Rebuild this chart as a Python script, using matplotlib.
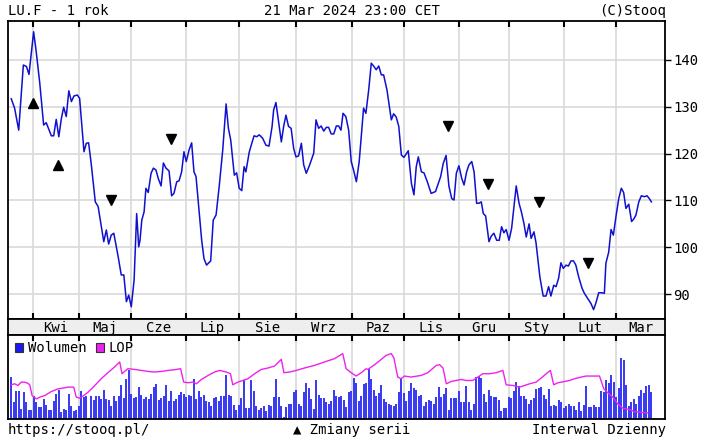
import matplotlib
matplotlib.use("Agg")
import matplotlib.pyplot as plt
from matplotlib.patches import Rectangle
import numpy as np

plt.rcParams['font.family'] = ['DejaVu Sans Mono', 'DejaVu Sans']

# price series: trading-day position, close
price_day = [0.1, 1.4, 3.0, 4.8, 6.0, 7.0, 7.9, 8.8, 9.8, 11.2, 12.7, 13.7, 15.7, 16.6, 17.6,
             18.6, 19.6, 20.5, 21.5, 22.5, 23.5, 24.5, 25.8, 26.7, 27.6, 28.4, 29.3, 30.2, 31.2,
             32.8, 33.9, 36.1, 37.1, 38.0, 39.0, 40.0, 41.6, 42.9, 43.9, 44.9, 45.8, 46.8, 47.9,
             48.9, 49.7,
             50.2, 50.9, 51.8, 52.5, 53.4, 54.5, 55.4, 56.4, 57.3, 58.4, 59.3, 60.3, 61.5, 62.5,
             63.4, 64.5, 65.4, 66.4, 67.3, 68.2, 69.3, 70.3, 71.2, 72.0, 73.3, 74.2, 75.1, 76.1,
             77.7, 78.7, 79.8, 81.0, 82.4, 83.7, 84.6, 85.5, 86.9, 87.8, 88.8, 89.8, 90.7, 91.4,
             92.7, 93.7, 94.6, 95.6, 96.6, 97.9, 99.2, 100.4, 101.6,
             102.2, 103.1, 104.2, 105.2, 106.1, 107.0, 108.0, 109.0, 110.0, 110.9, 111.9, 113.0,
             113.9, 114.9, 116.1, 117.8, 118.7, 119.7, 120.7, 121.7, 122.7, 123.6, 124.6, 125.6,
             126.6, 127.5, 128.4, 129.2, 130.3, 131.4, 132.4, 133.3, 134.4, 135.5, 137.2, 138.1,
             139.2, 140.2, 141.1, 142.1, 143.1, 144.1, 145.0, 146.3, 148.0, 148.9, 149.9, 150.9,
             151.9, 152.9,
             154.6, 155.8, 156.8, 157.7, 158.5, 159.7, 160.7, 162.0, 163.5, 165.2, 167.2, 168.2,
             169.3, 170.4, 171.5, 172.4, 173.3, 174.3, 175.4, 176.3, 177.3, 178.2, 179.3, 180.2,
             181.2, 182.1, 183.0, 183.8, 184.7, 186.0, 186.9, 187.9, 189.0, 190.0, 190.9, 191.8,
             192.7, 193.8, 194.8, 196.6, 197.7, 198.6, 199.6, 200.5, 201.6, 202.4, 203.5, 204.3,
             204.9, 205.8, 207.1, 208.2, 209.2, 210.1, 211.2, 212.1, 213.1, 214.0, 214.9, 216.0,
             216.9, 217.9, 218.9, 219.8, 220.9, 222.2, 223.1, 224.4, 225.7, 226.7, 227.6, 228.7,
             229.8, 230.9, 231.5, 232.6, 233.5, 234.4, 235.4, 236.5, 237.5, 238.4, 239.3, 240.4,
             241.5, 242.3, 243.2, 244.3, 245.3, 246.5, 247.5, 248.4, 249.2]
price_val = [131.7, 129.7, 125.0, 138.9, 138.6, 136.9, 141.4, 146.0, 141.8, 135.0, 126.1, 126.6,
             123.8, 123.8, 127.3, 123.6, 127.5, 129.9, 127.9, 133.4, 131.1, 132.3, 132.5, 131.8,
             125.8, 120.4, 122.2, 122.3, 117.9, 109.7, 108.7, 101.2, 103.7, 100.7, 102.6, 103.0,
             98.3, 94.1, 94.1, 88.4, 89.8, 87.3, 93.0, 107.2, 100.1,
             101.5, 105.8, 107.6, 112.6, 111.7, 115.8, 116.9, 116.5, 114.7, 113.1, 118.0, 116.9,
             116.3, 111.0, 111.5, 114.0, 114.2, 116.1, 120.4, 118.3, 120.8, 122.3, 116.1, 115.1,
             107.2, 101.5, 97.6, 96.2, 97.1, 105.8, 106.9, 112.9, 120.8, 130.6, 125.4, 122.9,
             115.4, 115.9, 112.6, 112.1, 117.2, 116.1, 120.3, 122.2, 123.8, 123.6, 124.0, 123.3,
             121.8, 121.6, 125.8,
             129.3, 130.9, 126.5, 122.5, 125.8, 128.2, 125.8, 125.4, 121.1, 119.3, 119.5, 122.2,
             117.6, 115.8, 117.4, 120.1, 127.2, 125.4, 125.9, 124.8, 125.6, 125.6, 124.2, 124.2,
             125.9, 125.9, 125.0, 128.6, 127.9, 125.0, 118.3, 116.5, 114.0, 118.3, 129.7, 128.6,
             133.6, 139.3, 138.7, 137.9, 138.7, 136.8, 136.8, 133.6, 127.2, 128.5, 127.8, 125.8,
             119.7, 119.2,
             120.6, 113.7, 111.2, 117.2, 119.3, 116.1, 115.9, 114.0, 111.5, 111.9, 115.1, 117.9,
             119.6, 113.1, 110.4, 110.1, 115.8, 117.4, 114.7, 113.3, 116.1, 117.6, 118.3, 116.1,
             109.4, 109.4, 109.7, 107.2, 106.7, 101.2, 102.4, 103.0, 101.5, 101.5, 104.4, 103.1,
             103.8, 101.5, 104.0, 113.1, 109.4, 107.6, 105.1, 102.2, 105.0, 101.9, 103.3, 101.0,
             98.0, 93.7, 89.6, 89.6, 91.6, 89.6, 91.9, 91.6, 93.4, 96.7, 95.5, 96.2,
             96.0, 97.1, 97.1, 96.2, 93.7, 91.3, 90.2, 89.1, 88.0, 86.7, 88.1, 90.3,
             90.3, 90.2, 96.6, 99.0, 103.8, 102.6, 106.5, 110.4, 112.6, 111.7, 108.3, 109.2,
             105.5, 106.0, 106.9, 109.7, 111.0, 110.8, 111.0, 110.4, 109.7]

# series-change markers
up_day = [8.6, 18.3]
up_val = [130.9, 117.6]
down_day = [38.8, 62.1, 170.0, 185.7, 205.3, 224.6]
down_val = [110.0, 123.1, 125.9, 113.5, 109.7, 96.7]

# daily volume (relative units)
volume = [41.7, 16.7, 28.3, 28.3, 10, 26.7, 16.7, 9.3, 9.3, 22.7, 16.7, 11.7, 11.7, 20, 14, 9.3,
          9.3, 18.3, 25, 29.3, 7.3, 10, 9.3, 25, 13.3, 8.3, 9.3, 12.7, 28.3, 21.7, 22.7, 0.7,
          23.3, 19.3, 23.3, 23.3, 20, 29.3, 20, 19.3, 13.3, 23.3, 18.3, 23.3, 34, 20.7, 40,
          48.3, 25, 20.7, 21.7, 31.7, 24, 20, 21.7, 20, 25, 31.7, 35, 19.3, 20.7, 23.3, 34,
          18.3, 28.3, 18.3, 20, 24, 26.7, 25, 21.7, 24, 23.3, 39.3, 20, 28.3, 21.7, 24, 18.3,
          17.3, 13.3, 20.7, 21.7, 18.3, 22.7, 23.3, 43.3,
          24, 22.7, 14, 9.3, 14, 20.7, 38.3, 10.7, 10.7, 38.3, 28.3, 12.7, 9.3, 10.7, 12.7, 8.3,
          14, 13.3, 21.7, 39.3, 21.7, 13.3, 1.7, 11.7, 15, 15, 26.7, 29.3, 15, 13.3, 26.7, 36,
          30.7, 20, 10, 38.3, 24, 20.7, 20.7, 16.7, 15, 18.3, 29.3, 22.7, 21.7, 23.3, 19.3,
          11.7, 27.3, 28.3, 40.7, 36, 18.3, 23.3, 35, 36, 49.3, 40, 29.3, 22.7, 26, 34, 20,
          16.7, 15, 14, 13.3, 15, 26.7, 39.3, 26, 18.3, 28.3, 36, 30.7, 29.3, 23.3, 24, 13.3,
          16.7, 19.3, 18.3, 15, 21.7, 31.7, 21.7, 25, 30.7,
          9.3, 20.7, 20.7, 20.7, 28.3, 16.7, 16.7, 33.3, 16.7, 9.3, 15, 41.7, 42.7, 40.7, 25,
          16.7, 29.3, 23.3, 21.7, 21.7, 19.3, 8.3, 10.7, 10.7, 21.7, 20.7, 28.3, 36.7, 32.7,
          23.3, 23.3, 20, 15, 19.3, 20.7, 30, 30.7, 31.7, 24, 20, 30, 13.3, 14, 12.7, 19.3,
          17.3, 10.7, 12.7, 15, 12.7, 13.3, 9.3, 16.7, 8.3, 14, 33.3, 11.7, 11.7, 14, 11.7,
          11.7, 28.3, 26.7, 38.3, 36, 43.3, 36.7, 21.7, 30.7, 60.7, 58.3, 34, 13.3, 16.7, 20,
          15, 22.7, 29.3, 26, 33.3, 34, 26.7]

# LOP (open interest), same relative units
lop_day = [0.1, 1.4, 2.7, 4.0, 5.1, 6.4, 7.3, 8.2, 9.9, 11.2, 13.1, 15.7, 18.3, 20.2, 22.2, 24.4,
           25.4, 26.7, 28.0, 30.0, 32.6, 35.1, 37.7, 40.3, 42.3, 43.2, 44.2, 45.5, 48.1, 50.7,
           53.3, 55.9, 58.5, 61.1, 63.7, 66.0, 67.2, 68.9, 70.8, 72.1, 74.1, 76.7, 79.2, 81.2,
           83.8,
           85.4, 86.3, 88.3, 90.2, 92.2, 94.8, 97.4, 100.0, 102.6, 105.2, 106.2, 108.4, 111.0,
           114.2, 118.1, 122.0, 125.9, 129.1, 130.4, 132.4, 134.3, 136.3, 138.2, 138.9, 141.5,
           144.1, 146.0, 148.0, 149.0, 150.5, 151.8, 153.1, 155.7, 159.6, 162.2, 165.5, 166.8,
           168.1, 169.4,
           171.3, 173.2, 175.2, 177.1, 179.7, 181.7, 183.6, 186.2, 188.8, 191.4, 192.7, 195.3,
           197.9, 199.8, 201.8, 204.4, 206.3, 208.3, 209.9, 211.2, 212.8, 215.4, 217.3, 219.3,
           221.9, 223.8, 225.8, 229.0, 230.7, 232.3, 234.2, 236.1, 238.1, 240.7, 242.6, 245.2,
           247.8]
lop_val = [34, 35, 33.3, 36.7, 36.7, 35.7, 34, 23.3, 20, 21.7, 23.3, 27.3, 30, 30.7, 31.7, 31.7,
           21.7, 20.7, 22.7, 26.7, 33.3, 40, 46, 51.7, 56.7, 45, 47.3, 50, 49.3, 48.3, 47.3,
           46.7, 47.3, 48.3, 49, 50, 36.7, 36, 36.7, 35, 39.3, 43.3, 46.7, 48.3, 46.7,
           45, 34, 36.7, 38.3, 40, 45, 49.3, 50.7, 52.7, 59.3, 46, 46.7, 48.3, 50.7, 53.3, 56.7,
           60, 65, 50, 46, 42.7, 46, 50, 49.3, 54, 59.3, 63.3, 65, 60.7, 41.7, 40, 42.7, 41.7,
           43.3, 46, 53.3, 54, 50.7, 35,
           37.3, 38.3, 39.3, 38.3, 38.3, 41.7, 45, 45, 46, 48.3, 34, 33.3, 31.7, 33.3, 35, 36.7,
           40.7, 45, 48.3, 34, 36, 37.3, 38.3, 40, 41.7, 42.7, 42.7, 42.7, 30, 26, 21.7, 15,
           10.7, 9.3, 7.3, 6.7, 6]

# month starts (trading-day position) and labels
month_start = [8.6, 26.5, 46.7, 68.1, 88.7, 110.9, 132.7, 152.9, 174.3, 193.8, 215.2, 235.4]
month_names = ['Kwi', 'Maj', 'Cze', 'Lip', 'Sie', 'Wrz', 'Paz', 'Lis', 'Gru', 'Sty', 'Lut', 'Mar']
price_ticks = [90, 100, 110, 120, 130, 140]

x_min, x_max = -1.17, 254.5
grid_c = '#d9d9d9'

fig = plt.figure(figsize=(7.04, 4.41), dpi=100)
W, H = 704, 441


def frac(x0, y0, x1, y1):
    return [x0 / W, 1 - y1 / H, (x1 - x0) / W, (y1 - y0) / H]


# main price panel
ax = fig.add_axes(frac(8, 21, 665, 319))
ax.plot(price_day, price_val, color='#1010d0', lw=1.1, zorder=3)
ax.plot(up_day, up_val, ls='none', marker='^', ms=7, color='black', zorder=4)
ax.plot(down_day, down_val, ls='none', marker='v', ms=7, color='black', zorder=4)
ax.set_xlim(x_min, x_max)
ax.set_ylim(84.7, 148.3)
ax.set_xticks(month_start)
ax.set_xticklabels([])
ax.set_yticks(price_ticks)
ax.yaxis.tick_right()
ax.tick_params(axis='y', direction='out', length=4, width=1, labelsize=10, pad=2)
ax.tick_params(axis='x', direction='in', length=4, width=1.5, top=True, bottom=True)
ax.grid(True, color=grid_c, lw=1.2, zorder=0)
for s in ax.spines.values():
    s.set_linewidth(1.3)

# month strip
axm = fig.add_axes(frac(8, 319, 665, 335))
axm.set_facecolor('#eeeeee')
axm.set_xlim(x_min, x_max)
axm.set_ylim(0, 1)
axm.set_xticks([])
axm.set_yticks([])
bounds = month_start + [x_max]
for i, name in enumerate(month_names):
    axm.text((bounds[i] + bounds[i + 1]) / 2, 0.45, name, ha='center', va='center', fontsize=10)
for s in axm.spines.values():
    s.set_linewidth(1.3)

# volume + LOP panel
axv = fig.add_axes(frac(8, 335, 665, 419))
vol_x = np.linspace(0.1, 249.2, len(volume))
axv.bar(vol_x, volume, width=0.8, color='#3c3cf0', edgecolor='none',
        antialiased=False, zorder=2)
axv.plot(lop_day, lop_val, color='#ee22ee', lw=1.0, zorder=3)
axv.set_xlim(x_min, x_max)
axv.set_ylim(0, 83.5)
axv.set_xticks(month_start)
axv.set_xticklabels([])
axv.set_yticks([])
axv.tick_params(axis='x', direction='in', length=4, width=1.5, top=True, bottom=False)
axv.grid(True, axis='x', color=grid_c, lw=1.2, zorder=0)
for s in axv.spines.values():
    s.set_linewidth(1.3)

# legend
for lx, col, name in [(0.0107, '#1a1aee', 'Wolumen'), (0.134, '#ee22ee', 'LOP')]:
    axv.add_patch(Rectangle((lx, 0.80), 0.0122, 0.10, transform=axv.transAxes,
                            facecolor=col, edgecolor='#333333', lw=0.8, zorder=5))
    axv.text(lx + 0.019, 0.85, name, transform=axv.transAxes, fontsize=10,
             va='center', ha='left', zorder=5)

# header and footer texts
fig.text(8 / W, 1 - 11 / H, 'LU.F - 1 rok', fontsize=10, va='center', ha='left')
fig.text(352 / W, 1 - 11 / H, '21 Mar 2024 23:00 CET', fontsize=10, va='center', ha='center')
fig.text(666 / W, 1 - 11 / H, '(C)Stooq', fontsize=10, va='center', ha='right')
fig.text(8 / W, 1 - 430 / H, 'https://stooq.pl/', fontsize=10, va='center', ha='left')
fig.text(352 / W, 1 - 430 / H, '▲ Zmiany serii', fontsize=10, va='center', ha='center')
fig.text(666 / W, 1 - 430 / H, 'Interwal Dzienny', fontsize=10, va='center', ha='right')

fig.savefig('out.png', dpi=100)
